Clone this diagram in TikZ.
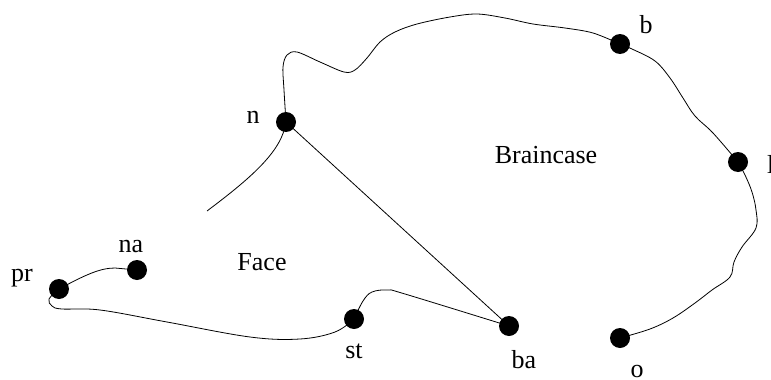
\documentclass[tikz,border=0pt]{standalone}
\usepackage{fontspec}
\setmainfont{Liberation Serif}
\begin{document}
\begin{tikzpicture}[x=1pt,y=-1pt,
  dot/.style={circle,fill=black,inner sep=0pt,minimum size=20pt},
  lbl/.style={inner sep=0pt,anchor=base,font=\fontsize{26}{30}\selectfont},
  curve/.style={line width=0.8pt,black}]
\useasboundingbox (0,0) rectangle (771,380);
% landmarks
\node[dot] (pr) at (59,289) {};
\node[dot] (na) at (137,270) {};
\node[dot] (st) at (354,319) {};
\node[dot] (ba) at (509,326) {};
\node[dot] (o)  at (620,338) {};
\node[dot] (l)  at (738,162) {};
\node[dot] (b)  at (620,44) {};
\node[dot] (n)  at (286,122) {};
\coordinate (fe) at (207,211);
% labels
\node[lbl] (tn)  at (253,123) {n};
\node[lbl] (tpr) at (22,281) {pr};
\node[lbl] (tna) at (131,252) {na};
\node[lbl] (tface) at (262,270) {Face};
\node[lbl] (tst) at (354,358) {st};
\node[lbl] (tba) at (524,368) {ba};
\node[lbl] (to)  at (637,377) {o};
\node[lbl] (tb)  at (646,33) {b};
\node[lbl] (tbr) at (546,163) {Braincase};
\node[lbl,anchor=base west] (tl) at (767,173) {l};
% connectors
\begin{scope}[curve]
\draw (pr.center) .. controls (85,275) and (100,268) .. (115,268) -- (na.center);
\draw plot[smooth,tension=0.6] coordinates {(pr.center) (49,299) (52,306) (62,309) (100,310) (167,322) (250,337) (300,339) (335,332) (st.center)};
\draw plot[smooth,tension=0.6] coordinates {(st.center) (363,301) (372,292) (388,290) (405,294) (ba.center)};
\draw (n.center) -- (ba.center);
\draw (n.center) .. controls (282,150) and (255,175) .. (fe);
\draw plot[smooth,tension=0.55] coordinates {(n.center) (284,90) (283,67) (287,55) (297,52) (320,62) (344,72) (355,70) (367,58) (380,42) (395,32) (417,24) (450,17) (477,14) (505,18) (533,24) (565,28) (593,33) (b.center)};
\draw plot[smooth,tension=0.6] coordinates {(b.center) (632,49) (655,61) (670,78) (683,98) (695,116) (713,133) (l.center)};
\draw plot[smooth,tension=0.6] coordinates {(l.center) (745,175) (752,192) (756,210) (756,228) (742,247) (734,262) (730,277) (712,290) (695,303) (673,318) (650,329) (o.center)};
\end{scope}
\end{tikzpicture}
\end{document}
